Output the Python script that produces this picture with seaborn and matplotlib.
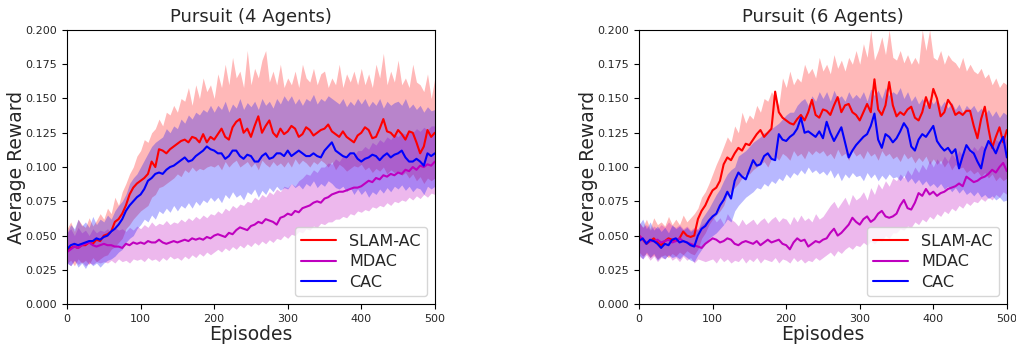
import numpy as np
import pandas as pd
import matplotlib
matplotlib.use("Agg")
import matplotlib.pyplot as plt
import seaborn as sns

# episodes sampled every 5 steps; rewards stored in units of 1e-3
episodes = list(range(0, 501, 5))
methods = ["SLAM-AC", "MDAC", "CAC"]
colors = {"SLAM-AC": "r", "MDAC": "m", "CAC": "b"}

# ---- Pursuit (4 Agents) ----
slam4_mean = [40, 41, 42, 41, 43, 43, 45, 44, 47, 46,
              50, 51, 53, 60, 62, 66, 72, 80, 85, 88,
              90, 92, 95, 104, 100, 113, 112, 110, 113, 115,
              117, 119, 120, 118, 122, 121, 118, 124, 118, 122,
              120, 124, 128, 122, 120, 129, 133, 135, 125, 128,
              122, 130, 137, 125, 130, 134, 125, 122, 128, 124,
              126, 130, 128, 122, 124, 129, 127, 123, 125, 127,
              128, 131, 126, 124, 122, 126, 122, 120, 118, 123,
              125, 129, 127, 121, 122, 128, 135, 126, 125, 122,
              127, 124, 120, 126, 125, 118, 110, 115, 127, 122,
              125]
slam4_hi = [55, 60, 53, 62, 58, 56, 63, 57, 61, 66,
            62, 70, 66, 78, 72, 82, 88, 95, 100, 108,
            112, 120, 118, 125, 128, 135, 130, 140, 138, 145,
            140, 150, 148, 158, 145, 160, 150, 165, 155, 160,
            150, 168, 158, 175, 160, 180, 165, 170, 158, 185,
            160, 172, 165, 178, 185, 162, 170, 160, 175, 158,
            165, 160, 170, 158, 175, 165, 162, 172, 160, 168,
            170, 158, 165, 160, 175, 158, 168, 162, 170, 160,
            172, 160, 168, 158, 175, 165, 183, 160, 170, 162,
            178, 160, 165, 158, 175, 162, 160, 155, 168, 150,
            165]
slam4_lo = [30, 32, 28, 33, 30, 32, 29, 34, 31, 33,
            35, 36, 40, 42, 45, 48, 55, 58, 62, 65,
            68, 70, 72, 78, 80, 85, 86, 88, 90, 92,
            95, 93, 98, 96, 100, 97, 99, 98, 100, 101,
            100, 102, 98, 104, 100, 103, 105, 100, 102, 104,
            100, 103, 98, 105, 102, 100, 104, 101, 103, 100,
            104, 100, 106, 102, 105, 103, 100, 104, 102, 105,
            103, 100, 104, 98, 102, 100, 97, 99, 101, 100,
            102, 98, 100, 96, 99, 97, 100, 95, 98, 96,
            97, 94, 96, 92, 95, 90, 93, 88, 92, 90,
            92]

mdac4_mean = [38, 40, 42, 41, 43, 44, 45, 43, 42, 43,
              44, 43, 43, 42, 42, 41, 44, 43, 45, 44,
              45, 44, 46, 45, 45, 47, 45, 44, 45, 46,
              45, 46, 47, 46, 48, 47, 48, 47, 49, 48,
              50, 51, 50, 49, 52, 51, 54, 56, 55, 54,
              57, 58, 60, 59, 62, 61, 60, 58, 63, 64,
              66, 65, 68, 67, 70, 71, 72, 74, 75, 74,
              77, 78, 80, 81, 82, 82, 83, 84, 85, 85,
              86, 88, 90, 89, 92, 91, 94, 93, 95, 94,
              96, 95, 98, 97, 100, 98, 101, 100, 102, 101,
              104]
mdac4_hi = [52, 55, 50, 56, 52, 54, 50, 55, 52, 54,
            53, 55, 52, 56, 54, 55, 53, 56, 54, 57,
            55, 58, 56, 60, 57, 59, 58, 61, 58, 60,
            59, 62, 60, 63, 61, 64, 62, 65, 63, 66,
            65, 68, 66, 70, 68, 72, 70, 73, 72, 75,
            74, 78, 76, 80, 78, 82, 80, 84, 82, 86,
            85, 88, 86, 90, 92, 95, 94, 98, 96, 100,
            100, 103, 102, 106, 104, 108, 106, 110, 108, 112,
            112, 115, 113, 118, 116, 120, 118, 122, 120, 124,
            122, 125, 124, 127, 125, 128, 126, 129, 127, 130,
            130]
mdac4_lo = [30, 28, 32, 29, 31, 28, 30, 29, 31, 30,
            31, 30, 32, 30, 33, 31, 32, 30, 33, 32,
            33, 31, 34, 32, 33, 31, 34, 32, 35, 33,
            34, 32, 35, 33, 36, 34, 37, 35, 38, 36,
            38, 40, 38, 41, 39, 42, 40, 43, 41, 44,
            42, 45, 43, 46, 44, 47, 45, 48, 47, 50,
            48, 51, 50, 53, 52, 55, 54, 57, 56, 59,
            58, 60, 60, 62, 62, 64, 63, 66, 65, 68,
            67, 69, 68, 71, 70, 72, 71, 74, 72, 75,
            74, 76, 75, 78, 76, 79, 77, 80, 78, 81,
            80]

cac4_mean = [40, 43, 44, 43, 44, 45, 46, 46, 48, 47,
             49, 50, 53, 55, 58, 62, 68, 72, 75, 78,
             80, 84, 90, 92, 95, 96, 95, 98, 100, 101,
             103, 105, 107, 104, 105, 108, 110, 112, 115, 113,
             112, 110, 110, 106, 108, 112, 112, 108, 106, 109,
             108, 104, 104, 108, 110, 106, 107, 110, 110, 108,
             112, 108, 110, 112, 110, 108, 108, 110, 108, 107,
             112, 115, 118, 112, 110, 108, 107, 110, 110, 106,
             104, 106, 107, 109, 108, 105, 108, 110, 107, 109,
             110, 112, 107, 104, 104, 106, 104, 101, 110, 108,
             110]
cac4_hi = [52, 58, 55, 62, 57, 60, 56, 64, 58, 62,
           60, 65, 62, 68, 72, 75, 80, 88, 92, 95,
           100, 105, 110, 115, 118, 120, 122, 128, 125, 130,
           128, 135, 132, 138, 135, 140, 138, 142, 140, 145,
           140, 145, 142, 148, 140, 146, 143, 150, 142, 147,
           144, 148, 142, 150, 145, 148, 143, 150, 146, 152,
           148, 152, 146, 150, 145, 150, 148, 153, 146, 150,
           148, 152, 150, 148, 146, 150, 144, 148, 145, 150,
           146, 150, 144, 148, 145, 150, 143, 148, 145, 147,
           148, 145, 150, 143, 146, 142, 145, 140, 144, 141,
           142]
cac4_lo = [30, 28, 32, 27, 30, 26, 31, 28, 30, 27,
           30, 32, 33, 35, 38, 40, 45, 48, 50, 55,
           58, 62, 60, 65, 62, 68, 66, 70, 67, 72,
           68, 72, 70, 74, 70, 75, 72, 76, 74, 78,
           75, 78, 74, 80, 77, 82, 78, 80, 76, 82,
           80, 84, 78, 83, 80, 85, 82, 86, 83, 85,
           84, 88, 85, 87, 84, 88, 86, 90, 85, 88,
           86, 90, 88, 85, 84, 86, 82, 85, 80, 84,
           80, 83, 78, 82, 80, 84, 81, 85, 82, 86,
           84, 87, 83, 86, 82, 85, 84, 80, 86, 84,
           86]

# ---- Pursuit (6 Agents) ----
slam6_mean = [50, 47, 44, 46, 48, 45, 43, 46, 48, 47,
              46, 48, 53, 50, 49, 50, 62, 68, 72, 78,
              83, 85, 90, 102, 107, 105, 110, 114, 112, 117,
              116, 120, 124, 127, 122, 125, 128, 155, 140, 136,
              134, 132, 131, 135, 138, 134, 140, 149, 138, 136,
              142, 141, 138, 145, 151, 140, 145, 146, 140, 138,
              134, 140, 146, 140, 164, 142, 138, 145, 162, 145,
              137, 140, 138, 142, 144, 136, 134, 140, 151, 143,
              157, 150, 137, 140, 149, 145, 138, 140, 138, 141,
              141, 130, 121, 135, 144, 128, 114, 122, 129, 118,
              127]
slam6_hi = [60, 56, 62, 55, 63, 58, 60, 57, 64, 58,
            62, 58, 65, 60, 63, 66, 70, 78, 82, 88,
            95, 102, 108, 115, 122, 118, 130, 125, 140, 132,
            138, 135, 145, 140, 150, 148, 155, 150, 145, 165,
            158, 170, 160, 165, 162, 175, 168, 172, 165, 180,
            170, 175, 168, 182, 172, 178, 170, 180, 175, 185,
            175, 190, 180, 200, 178, 185, 195, 182, 200, 180,
            178, 185, 176, 182, 175, 180, 175, 200, 185, 200,
            180, 178, 185, 175, 182, 178, 176, 172, 180, 170,
            175, 170, 168, 172, 165, 168, 160, 165, 158, 162,
            160]
slam6_lo = [38, 35, 37, 34, 36, 33, 35, 36, 34, 37,
            35, 38, 36, 39, 37, 36, 40, 48, 52, 58,
            62, 65, 68, 72, 80, 82, 85, 88, 92, 95,
            95, 98, 100, 102, 104, 100, 106, 108, 105, 110,
            108, 105, 112, 108, 110, 106, 112, 109, 112, 110,
            112, 108, 110, 106, 113, 108, 110, 105, 112, 108,
            110, 106, 112, 108, 110, 105, 112, 108, 110, 106,
            108, 104, 110, 106, 108, 103, 107, 104, 108, 102,
            106, 102, 105, 100, 104, 98, 102, 99, 100, 96,
            98, 95, 97, 93, 96, 92, 95, 90, 93, 90,
            92]

mdac6_mean = [50, 47, 45, 46, 46, 47, 45, 46, 47, 45,
              46, 48, 46, 45, 44, 43, 42, 41, 44, 46,
              48, 47, 45, 46, 48, 47, 44, 43, 45, 46,
              45, 44, 46, 43, 45, 47, 45, 46, 47, 44,
              43, 40, 45, 48, 46, 47, 42, 44, 46, 45,
              47, 48, 52, 55, 50, 52, 55, 58, 63, 60,
              58, 62, 64, 60, 62, 66, 68, 64, 63, 64,
              66, 72, 76, 70, 69, 74, 81, 79, 84, 80,
              82, 79, 81, 82, 84, 85, 86, 88, 86, 93,
              91, 89, 90, 92, 93, 95, 98, 96, 100, 103,
              97]
mdac6_hi = [60, 56, 58, 54, 57, 55, 58, 56, 60, 57,
            56, 58, 55, 57, 54, 56, 55, 58, 60, 62,
            64, 60, 63, 58, 66, 62, 60, 57, 62, 58,
            60, 62, 58, 61, 63, 59, 62, 64, 60, 63,
            62, 58, 64, 60, 65, 61, 63, 60, 66, 62,
            64, 68, 72, 75, 70, 74, 78, 72, 80, 76,
            78, 82, 76, 85, 80, 88, 84, 90, 86, 92,
            90, 95, 92, 98, 94, 100, 96, 102, 98, 105,
            100, 106, 102, 108, 104, 110, 106, 112, 108, 114,
            110, 115, 112, 116, 114, 118, 115, 120, 118, 122,
            120]
mdac6_lo = [35, 33, 36, 32, 35, 31, 34, 33, 36, 32,
            34, 31, 35, 32, 34, 30, 33, 32, 31, 32,
            33, 30, 34, 31, 33, 30, 32, 31, 34, 30,
            33, 31, 34, 30, 33, 32, 31, 34, 30, 33,
            32, 30, 34, 31, 33, 30, 32, 31, 34, 32,
            34, 36, 38, 35, 39, 37, 40, 42, 40, 43,
            42, 45, 43, 46, 44, 47, 46, 50, 48, 52,
            52, 55, 54, 57, 56, 60, 58, 62, 60, 64,
            62, 66, 64, 68, 66, 70, 68, 72, 70, 74,
            72, 75, 74, 77, 75, 78, 76, 80, 78, 82,
            80]

cac6_mean = [46, 48, 44, 47, 46, 44, 41, 44, 43, 47,
             48, 45, 46, 45, 43, 42, 50, 55, 57, 61,
             64, 66, 72, 76, 82, 77, 90, 96, 93, 91,
             98, 105, 101, 102, 108, 110, 106, 105, 124, 120,
             119, 122, 124, 128, 136, 125, 126, 124, 122, 126,
             121, 133, 125, 119, 124, 129, 118, 107, 112, 116,
             119, 122, 124, 130, 139, 120, 114, 124, 122, 118,
             121, 126, 132, 128, 115, 112, 120, 124, 122, 126,
             130, 119, 115, 112, 114, 110, 113, 99, 108, 116,
             112, 110, 104, 99, 112, 119, 115, 110, 117, 122,
             107]
cac6_hi = [58, 62, 55, 60, 54, 57, 53, 56, 52, 58,
           55, 57, 54, 56, 53, 55, 54, 62, 66, 70,
           75, 80, 84, 90, 95, 98, 100, 108, 110, 112,
           115, 118, 120, 122, 125, 126, 128, 130, 132, 135,
           138, 140, 140, 145, 148, 150, 145, 152, 148, 155,
           150, 155, 148, 156, 150, 152, 148, 155, 150, 153,
           150, 155, 148, 157, 152, 156, 150, 158, 152, 155,
           153, 158, 150, 155, 148, 152, 146, 150, 145, 150,
           146, 150, 144, 148, 143, 147, 142, 146, 140, 145,
           142, 145, 140, 143, 138, 142, 137, 141, 136, 140,
           138]
cac6_lo = [36, 33, 38, 34, 37, 32, 35, 33, 36, 34,
           35, 33, 36, 34, 32, 31, 36, 40, 44, 48,
           50, 52, 55, 58, 62, 60, 68, 72, 75, 78,
           80, 82, 85, 84, 88, 86, 90, 88, 92, 90,
           95, 92, 96, 94, 98, 95, 100, 96, 98, 95,
           97, 94, 98, 92, 96, 90, 95, 92, 96, 93,
           94, 90, 96, 92, 95, 90, 94, 91, 95, 92,
           93, 90, 94, 89, 92, 88, 91, 87, 90, 86,
           88, 85, 88, 84, 86, 82, 85, 81, 84, 80,
           82, 79, 82, 78, 80, 77, 79, 76, 78, 75,
           76]

panels = [
    ("Pursuit (4 Agents)", {
        "SLAM-AC": (slam4_mean, slam4_lo, slam4_hi),
        "MDAC": (mdac4_mean, mdac4_lo, mdac4_hi),
        "CAC": (cac4_mean, cac4_lo, cac4_hi),
    }),
    ("Pursuit (6 Agents)", {
        "SLAM-AC": (slam6_mean, slam6_lo, slam6_hi),
        "MDAC": (mdac6_mean, mdac6_lo, mdac6_hi),
        "CAC": (cac6_mean, cac6_lo, cac6_hi),
    }),
]


def to_frame(series):
    rows = []
    for name in methods:
        mean, lo, hi = series[name]
        for ep, m, l, h in zip(episodes, mean, lo, hi):
            rows.append((name, ep, m / 1000, l / 1000, h / 1000))
    return pd.DataFrame(rows, columns=["method", "episode", "reward", "lo", "hi"])


sns.set_style("ticks")
plt.rcParams["font.family"] = ["DejaVu Sans"]

fig = plt.figure(figsize=(10.16, 3.48), dpi=100)
ax_l = fig.add_axes([0.066, 0.126, 0.362, 0.788])
ax_r = fig.add_axes([0.629, 0.126, 0.362, 0.788])

for ax, (title, series) in zip([ax_l, ax_r], panels):
    df = to_frame(series)
    for name in methods:
        sub = df[df["method"] == name]
        ax.fill_between(sub["episode"], sub["lo"], sub["hi"],
                        color=colors[name], alpha=0.28, linewidth=0)
    sns.lineplot(data=df, x="episode", y="reward", hue="method",
                 hue_order=methods, palette=colors, linewidth=1.5,
                 ax=ax, legend=True)
    ax.set_xlim(0, 500)
    ax.set_ylim(0, 0.2)
    ax.set_xticks([0, 100, 200, 300, 400, 500])
    ax.set_yticks(np.arange(0, 0.2001, 0.025))
    ax.yaxis.set_major_formatter(matplotlib.ticker.FormatStrFormatter("%.3f"))
    ax.tick_params(labelsize=8, length=3.5, color="black")
    for sp in ax.spines.values():
        sp.set_color("black")
        sp.set_linewidth(0.8)
    ax.set_title(title, fontsize=13)
    ax.set_xlabel("Episodes", fontsize=13.5, labelpad=1)
    ax.set_ylabel("Average Reward", fontsize=13.5, labelpad=0)
    ax.legend(loc="lower right", fontsize=11.5, framealpha=0.8,
              handlelength=2.2, labelspacing=0.35, borderpad=0.4)

fig.savefig("out.png", dpi=100)
